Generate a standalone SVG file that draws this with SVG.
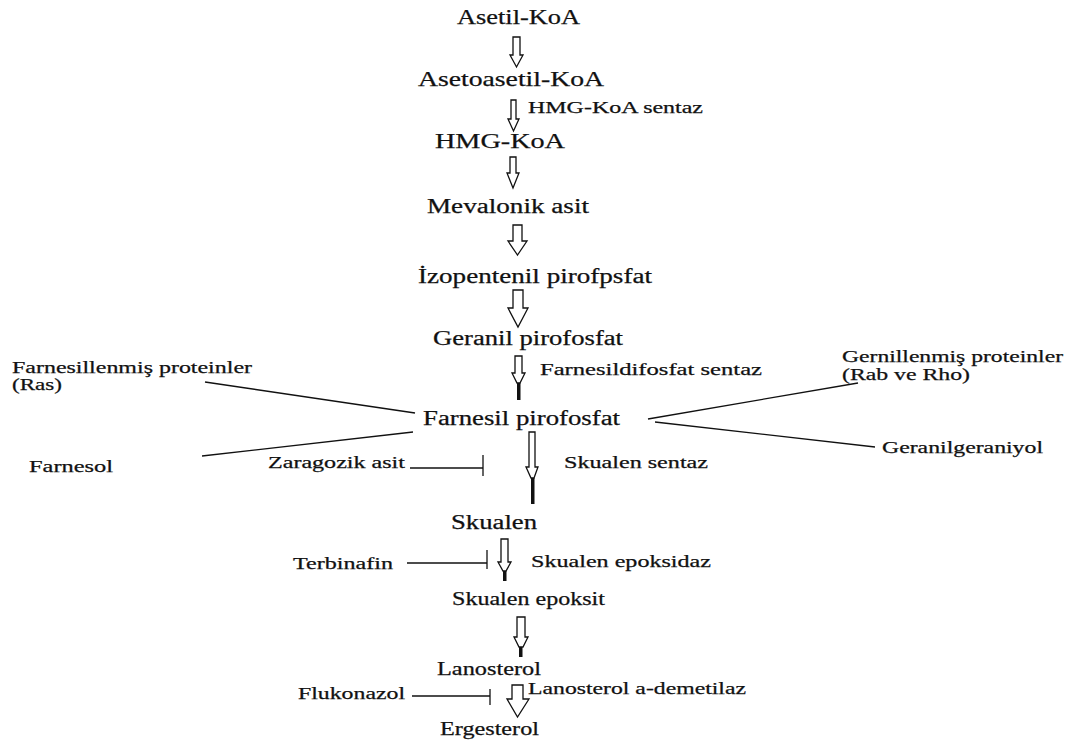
<svg xmlns="http://www.w3.org/2000/svg" width="1065" height="743" viewBox="0 0 1065 743">
<style>
text{font-family:"Liberation Serif","Times New Roman",serif;fill:#111;stroke:#111;stroke-width:0.25;}
.m{font-size:20px;}
.s{font-size:17px;}
.arr{fill:#fff;stroke:#111;stroke-width:1.3;stroke-linejoin:miter;}
.tail{fill:#111;}
.ln{stroke:#111;stroke-width:1.3;fill:none;}
</style>
<rect width="1065" height="743" fill="#fff"/>
<g id="nodes">
<g id="n-asetil"><text class="m" x="457" y="24" textLength="123" lengthAdjust="spacingAndGlyphs" style="font-size:21px">Asetil-KoA</text></g>
<g id="n-asetoasetil"><text class="m" x="418" y="86" textLength="186" lengthAdjust="spacingAndGlyphs" style="font-size:21px">Asetoasetil-KoA</text></g>
<g id="n-hmg"><text class="m" x="435" y="148" textLength="130" lengthAdjust="spacingAndGlyphs" style="font-size:22px">HMG-KoA</text></g>
<g id="n-mevalonik"><text class="m" x="427" y="213" textLength="162" lengthAdjust="spacingAndGlyphs">Mevalonik asit</text></g>
<g id="n-izopentenil"><text class="m" x="418" y="283" textLength="234" lengthAdjust="spacingAndGlyphs">İzopentenil pirofpsfat</text></g>
<g id="n-geranil"><text class="m" x="433" y="345" textLength="190" lengthAdjust="spacingAndGlyphs">Geranil pirofosfat</text></g>
<g id="n-farnesil"><text class="m" x="423" y="425" textLength="197" lengthAdjust="spacingAndGlyphs">Farnesil pirofosfat</text></g>
<g id="n-skualen"><text class="m" x="451" y="529" textLength="86" lengthAdjust="spacingAndGlyphs">Skualen</text></g>
<g id="n-epoksit"><text class="m" x="452" y="605" textLength="153" lengthAdjust="spacingAndGlyphs" style="font-size:18px">Skualen epoksit</text></g>
<g id="n-lanosterol"><text class="m" x="437" y="675" textLength="104" lengthAdjust="spacingAndGlyphs" style="font-size:18px">Lanosterol</text></g>
<g id="n-ergesterol"><text class="m" x="440" y="735" textLength="99" lengthAdjust="spacingAndGlyphs" style="font-size:18px">Ergesterol</text></g>
<g id="n-farnesillenmis"><text class="s" x="12" y="373" textLength="240" lengthAdjust="spacingAndGlyphs">Farnesillenmiş proteinler</text><text class="s" x="12" y="390" textLength="50" lengthAdjust="spacingAndGlyphs">(Ras)</text></g>
<g id="n-farnesol"><text class="s" x="29" y="472" textLength="84" lengthAdjust="spacingAndGlyphs">Farnesol</text></g>
<g id="n-gernillenmis"><text class="s" x="842" y="362" textLength="221" lengthAdjust="spacingAndGlyphs">Gernillenmiş proteinler</text><text class="s" x="842" y="380" textLength="128" lengthAdjust="spacingAndGlyphs">(Rab ve Rho)</text></g>
<g id="n-geranilgeraniyol"><text class="s" x="882" y="453" textLength="161" lengthAdjust="spacingAndGlyphs">Geranilgeraniyol</text></g>
<g id="n-zaragozik"><text class="s" x="268" y="468" textLength="137" lengthAdjust="spacingAndGlyphs">Zaragozik asit</text></g>
<g id="n-terbinafin"><text class="s" x="293" y="569" textLength="100" lengthAdjust="spacingAndGlyphs">Terbinafin</text></g>
<g id="n-flukonazol"><text class="s" x="298" y="699" textLength="107" lengthAdjust="spacingAndGlyphs">Flukonazol</text></g>
<g id="e-hmgsentaz"><text class="s" x="528" y="113" textLength="175" lengthAdjust="spacingAndGlyphs">HMG-KoA sentaz</text></g>
<g id="e-fdsentaz"><text class="s" x="540" y="375" textLength="222" lengthAdjust="spacingAndGlyphs">Farnesildifosfat sentaz</text></g>
<g id="e-skualensentaz"><text class="s" x="564" y="468" textLength="144" lengthAdjust="spacingAndGlyphs">Skualen sentaz</text></g>
<g id="e-epoksidaz"><text class="s" x="531" y="567" textLength="180" lengthAdjust="spacingAndGlyphs">Skualen epoksidaz</text></g>
<g id="e-demetilaz"><text class="s" x="528" y="694" textLength="218" lengthAdjust="spacingAndGlyphs">Lanosterol a-demetilaz</text></g>
</g>
<g id="connectors">
<path class="arr" d="M513,37 H520 V55 H523 L516.5,67 L510,55 H513 Z"/>
<path class="arr" d="M511,100 H516 V119 H519 L513.5,131 L508,119 H511 Z"/>
<path class="arr" d="M510,157 H516 V173 H519 L513,188 L507,173 H510 Z"/>
<path class="arr" d="M513,225 H522 V241 H527 L517.5,255 L508,241 H513 Z"/>
<path class="arr" d="M513,290 H523 V308 H528 L518,327 L508,308 H513 Z"/>
<path class="arr" d="M515,356 H522 V373 H525 L520,383 H517 L512,373 H515 Z"/>
<rect class="tail" x="517" y="383" width="3.5" height="17"/>
<path class="arr" d="M529,432 H535 V467 H538 L534,478 H531 L526,467 H529 Z"/>
<rect class="tail" x="531" y="478" width="3.5" height="26"/>
<path class="arr" d="M501,539 H508 V562 H511 L506,571 H503 L498,562 H501 Z"/>
<rect class="tail" x="503" y="571" width="3.5" height="10"/>
<path class="arr" d="M517,617 H525 V637 H528 L523,647 H519 L514,637 H517 Z"/>
<rect class="tail" x="519" y="647" width="3.5" height="10"/>
<path class="arr" d="M512,685 H523 V699 H529 L517.5,717 L507,699 H512 Z"/>
<line class="ln" x1="410" y1="468" x2="483" y2="468"/>
<line class="ln" x1="483" y1="455" x2="483" y2="476"/>
<line class="ln" x1="407" y1="563" x2="487" y2="563"/>
<line class="ln" x1="487" y1="550" x2="487" y2="569"/>
<line class="ln" x1="412" y1="696" x2="490" y2="696"/>
<line class="ln" x1="490" y1="689" x2="490" y2="705"/>
<line class="ln" x1="205" y1="382" x2="415" y2="413"/>
<line class="ln" x1="202" y1="456" x2="413" y2="432"/>
<line class="ln" x1="648" y1="419" x2="858" y2="383"/>
<line class="ln" x1="655" y1="422" x2="875" y2="447"/>
</g>
</svg>
